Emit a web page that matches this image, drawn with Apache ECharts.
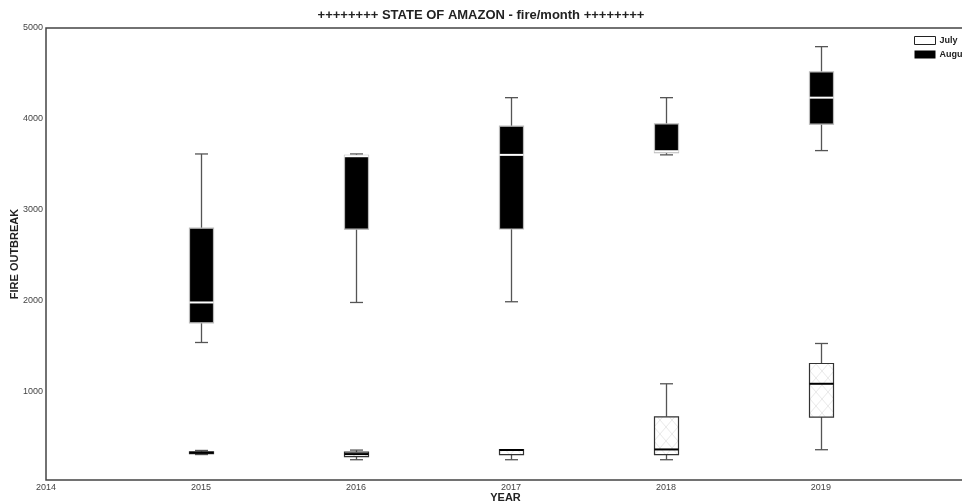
<!DOCTYPE html>
<html>
<head>
    <meta charset="utf-8">
    <title>ECharts</title>
    <script src="https://cdn.jsdelivr.net/npm/echarts@6/dist/echarts.min.js"></script>
    <style>html,body{margin:0;padding:0;background:#fff;}</style>
</head>
<body>
    <div id="main" style="width:962px;height:504px;"></div>
    <script type="text/javascript">

// years on the x axis
var years = [2015, 2016, 2017, 2018, 2019];
var yTicks = [1000, 2000, 3000, 4000, 5000];

// [min, Q1, median, Q3, max] per year
var july = [
    [310, 320, 330, 340, 355],
    [253, 286, 315, 337, 359],
    [253, 308, 360, 363, 363],
    [253, 308, 366, 725, 1088],
    [363, 722, 1088, 1311, 1531]
];
var august = [
    [1542, 1758, 1982, 2799, 3615],
    [1982, 2788, 3590, 3600, 3615],
    [1990, 2790, 3605, 3920, 4234],
    [3605, 3630, 3645, 3945, 4234],
    [3652, 3942, 4234, 4517, 4795]
];

function withYear(list) {
    return list.map(function (item, i) {
        return [years[i]].concat(item);
    });
}

// light cross hatch for the July boxes
var hatch = document.createElement('canvas');
hatch.width = 12;
hatch.height = 14;
var hc = hatch.getContext('2d');
hc.fillStyle = '#fff';
hc.fillRect(0, 0, 12, 14);
hc.strokeStyle = '#e2e2e2';
hc.lineWidth = 0.8;
hc.beginPath();
hc.moveTo(0, 0); hc.lineTo(12, 14);
hc.moveTo(12, 0); hc.lineTo(0, 14);
hc.stroke();

function boxRenderer(boxFill, boxStroke, medianColor, medianWidth) {
    return function (params, api) {
        var x = api.value(0);
        var p = [1, 2, 3, 4, 5].map(function (i) {
            return api.coord([x, api.value(i)]);
        });
        var cx = Math.round(p[0][0]) + 0.5;
        var hw = 12, cw = 6.5;
        var whisker = { stroke: '#555', lineWidth: 1.3 };
        return {
            type: 'group',
            children: [
                { type: 'line', shape: { x1: cx, y1: p[0][1], x2: cx, y2: p[1][1] }, style: whisker },
                { type: 'line', shape: { x1: cx, y1: p[3][1], x2: cx, y2: p[4][1] }, style: whisker },
                { type: 'line', shape: { x1: cx - cw, y1: p[0][1], x2: cx + cw, y2: p[0][1] }, style: whisker },
                { type: 'line', shape: { x1: cx - cw, y1: p[4][1], x2: cx + cw, y2: p[4][1] }, style: whisker },
                {
                    type: 'rect',
                    shape: { x: cx - hw, y: p[3][1], width: hw * 2, height: Math.max(p[1][1] - p[3][1], 1) },
                    style: { fill: boxFill, stroke: boxStroke, lineWidth: 1.2 }
                },
                { type: 'line', shape: { x1: cx - hw, y1: p[2][1], x2: cx + hw, y2: p[2][1] },
                  style: { stroke: medianColor, lineWidth: medianWidth } }
            ]
        };
    };
}

var font = 'Liberation Sans';
var myChart = echarts.init(document.getElementById('main'));

option = {
    backgroundColor: '#fff',
    animation: false,
    textStyle: { fontFamily: font },
    title: {
        text: '++++++++ STATE OF AMAZON - fire/month ++++++++',
        left: 'center',
        top: 4,
        textStyle: { fontFamily: font, fontSize: 13, fontWeight: 'bold', color: '#222' }
    },
    legend: {
        orient: 'vertical',
        left: 909,
        top: 31,
        itemWidth: 21,
        itemHeight: 8,
        itemGap: 5,
        icon: 'rect',
        textStyle: { fontFamily: font, fontSize: 9, fontWeight: 'bold', color: '#222', padding: [0, 0, 0, -1] },
        data: [
            { name: 'July', itemStyle: { color: '#fff', borderColor: '#222', borderWidth: 1 } },
            { name: 'August', itemStyle: { color: '#000', borderWidth: 0 } }
        ]
    },
    grid: {
        left: 46,
        right: -3,
        top: 28,
        bottom: 24,
        outerBoundsMode: 'none',
        containLabel: false,
        show: true,
        borderColor: '#444',
        borderWidth: 1.5
    },
    xAxis: {
        type: 'value',
        min: 2014,
        max: 2019.93,
        interval: 1,
        name: 'YEAR',
        nameLocation: 'middle',
        nameGap: 12,
        nameMoveOverlap: false,
        nameTextStyle: { fontFamily: font, fontSize: 11, fontWeight: 'bold', color: '#222' },
        splitLine: { show: false },
        axisTick: { show: false },
        axisLine: { show: false },
        axisLabel: {
            fontSize: 9, color: '#444', margin: 3, showMaxLabel: false,
            formatter: function (v) { return String(v); }
        }
    },
    yAxis: {
        type: 'value',
        min: 30,
        max: 5000,
        name: 'FIRE OUTBREAK',
        nameLocation: 'middle',
        nameGap: 26,
        nameMoveOverlap: false,
        nameTextStyle: { fontFamily: font, fontSize: 11, fontWeight: 'bold', color: '#222' },
        splitLine: { show: false },
        axisTick: { show: false },
        axisLine: { show: false },
        axisLabel: {
            fontSize: 9, color: '#444', margin: 3, customValues: yTicks,
            formatter: function (v) { return String(v); }
        }
    },
    series: [{
        name: 'July',
        type: 'custom',
        itemStyle: { color: '#fff', borderColor: '#222' },
        encode: { x: 0, y: [1, 2, 3, 4, 5] },
        renderItem: boxRenderer({ image: hatch, repeat: 'repeat' }, '#333', '#000', 2),
        data: withYear(july)
    }, {
        name: 'August',
        type: 'custom',
        itemStyle: { color: '#000' },
        encode: { x: 0, y: [1, 2, 3, 4, 5] },
        renderItem: boxRenderer('#000', '#bbb', '#fff', 2),
        data: withYear(august)
    }]
};

myChart.setOption(option);
    </script>
</body>
</html>
